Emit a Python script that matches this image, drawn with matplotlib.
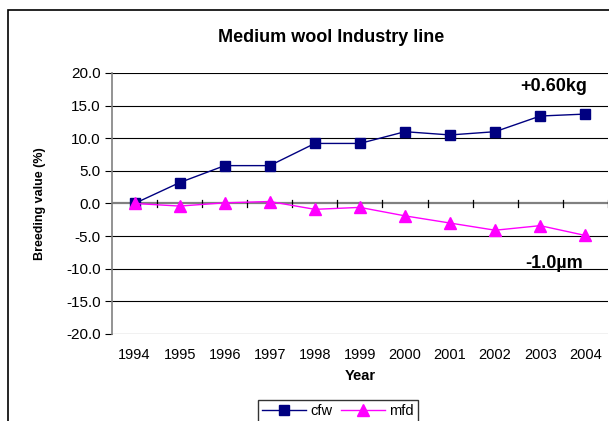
import matplotlib.pyplot as plt
from matplotlib.patches import Rectangle

plt.rcParams['font.family'] = ['Liberation Sans', 'DejaVu Sans']

years = ['1994', '1995', '1996', '1997', '1998', '1999', '2000', '2001', '2002', '2003', '2004']
cfw = [0.0, 3.2, 5.8, 5.8, 9.2, 9.2, 11.0, 10.5, 11.0, 13.4, 13.7]
mfd = [0.0, -0.4, 0.1, 0.3, -0.9, -0.6, -1.9, -3.0, -4.1, -3.4, -4.9]
yticks = [20, 15, 10, 5, 0, -5, -10, -15, -20]

fig = plt.figure(figsize=(6.09, 4.21), dpi=100)
ax = fig.add_axes([0.184, 0.2067, 0.814, 0.62])

# outer chart border (Excel style)
fig.patches.append(Rectangle((8 / 609, -0.1), 1.2, 1 - 10 / 421 + 0.1, transform=fig.transFigure,
                             fill=False, edgecolor='black', linewidth=1.2))

x = list(range(len(years)))
ax.plot(x, cfw, color='#000080', marker='s', markersize=6.5, linewidth=1, label='cfw')
ax.plot(x, mfd, color='#FF00FF', marker='^', markersize=8, linewidth=1, label='mfd')

ax.set_xlim(-0.5, len(years) - 0.5)
ax.set_ylim(-20, 20)
ax.set_yticks(yticks)
ax.set_yticklabels(['%.1f' % v for v in yticks], fontsize=11)
ax.set_xticks(x)
ax.set_xticklabels(years, fontsize=10.5)
ax.tick_params(axis='x', length=0, pad=10)
ax.tick_params(axis='y', length=5, direction='out', color='black', pad=3)

# gridlines
for v in yticks:
    if v != 0:
        ax.axhline(v, color='black', linewidth=0.8, zorder=0)
ax.axhline(0, color='gray', linewidth=1.6, zorder=1)
# category ticks crossing the zero line
for b in range(1, len(years) + 1):
    ax.plot([b - 0.5, b - 0.5], [-0.6, 0.6], color='black', linewidth=0.9, zorder=1)

for s in ['top', 'right', 'bottom']:
    ax.spines[s].set_visible(False)
ax.spines['left'].set_color('gray')
ax.spines['left'].set_linewidth(1.2)

ax.set_xlabel('Year', fontsize=10.5, fontweight='bold', labelpad=5)
ax.set_ylabel('Breeding value (%)', fontsize=9, fontweight='bold')
ax.yaxis.set_label_coords(-0.133, 0.5)
fig.text(331 / 609, 1 - 38 / 421, 'Medium wool Industry line', fontsize=13, fontweight='bold',
         ha='center', va='center')

ax.text(9.3, 17.85, '+0.60kg', fontsize=13, fontweight='bold', ha='center', va='center')
ax.text(9.3, -9.2, '-1.0µm', fontsize=13, fontweight='bold', ha='center', va='center')

fig.legend(loc='center', bbox_to_anchor=(338 / 609, 1 - 411 / 421), ncol=2, fontsize=10.5,
           frameon=True, fancybox=False, edgecolor='black', borderpad=0.3,
           handlelength=3, columnspacing=0.6, handletextpad=0.3, borderaxespad=0)

fig.savefig('out.png', dpi=100)
